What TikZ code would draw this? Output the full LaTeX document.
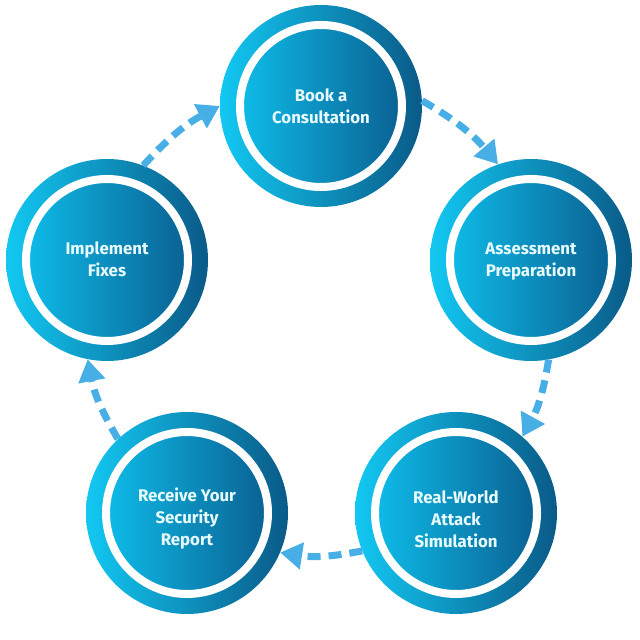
\documentclass[tikz,border=0pt]{standalone}
\usepackage{fontspec}
\setmainfont{Fira Sans}
\usetikzlibrary{arrows.meta}
\definecolor{cyanL}{HTML}{12C8F2}
\definecolor{navyR}{HTML}{0A5A88}
\definecolor{cyanI}{HTML}{0EBBE8}
\definecolor{navyI}{HTML}{0A6193}
\definecolor{txt}{HTML}{E8FBFF}
\definecolor{arr}{HTML}{47AFE5}
\tikzset{
  outerc/.style={circle, inner sep=0pt, minimum size=202pt, left color=cyanL, right color=navyR},
  innerc/.style={circle, inner sep=0pt, minimum size=162pt, draw=white, line width=8pt,
    left color=cyanI, right color=navyI},
  lbl/.style={text=txt, align=center, inner sep=0pt,
    font=\fontsize{16.8}{22}\selectfont\bfseries},
  flow/.style={draw=arr, line width=7pt, dash pattern=on 13pt off 8pt,
    -{Triangle[length=22pt,width=26pt]}}
}
\begin{document}
\begin{tikzpicture}[x=1pt,y=1pt]
\useasboundingbox (0,0) rectangle (640,640);
\node[outerc] (top) at (321,534) {};
\node[outerc] (right) at (531,380) {};
\node[outerc] (br) at (456,127) {};
\node[outerc] (bl) at (187,127) {};
\node[outerc] (left) at (107,380) {};
\node[innerc] (topi) at (top) {};
\node[innerc] (righti) at (right) {};
\node[innerc] (bri) at (br) {};
\node[innerc] (bli) at (bl) {};
\node[innerc] (lefti) at (left) {};
\node[lbl] (topt) at ([yshift=0pt]topi.center) {Book a\\Consultation};
\node[lbl] (rightt) at ([yshift=-2pt]righti.center) {Assessment\\Preparation};
\node[lbl] (brt) at ([yshift=-6pt]bri.center) {Real-World\\Attack\\Simulation};
\node[lbl] (blt) at ([yshift=-6pt]bli.center) {Receive Your\\Security\\Report};
\node[lbl] (leftt) at ([yshift=1pt]lefti.center) {Implement\\Fixes};
\draw[flow] (top.3) to[bend left=10] (right.109);
\draw[flow] (right.-80) to[bend left=10] (br.49);
\draw[flow] (br.202) to[bend left=10] (bl.-23);
\draw[flow] (bl.133) to[bend left=10] (left.-101);
\draw[flow] (left.69) to[bend left=10] (top.180);
\end{tikzpicture}
\end{document}
